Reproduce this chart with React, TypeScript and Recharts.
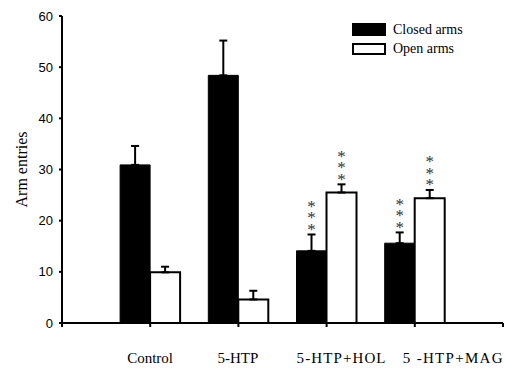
import {
  Bar,
  BarChart,
  ErrorBar,
  LabelList,
  XAxis,
  YAxis,
} from "recharts";

const categories = ["Control", "5-HTP", "5-HTP+HOL", "5 -HTP+MAG"];
const closedArms = [30.9, 48.4, 14.1, 15.6];
const closedSem = [3.7, 6.8, 3.2, 2.1];
const openArms = [9.9, 4.6, 25.5, 24.4];
const openSem = [1.1, 1.7, 1.6, 1.6];
const closedSig = ["", "", "***", "***"];
const openSig = ["", "", "***", "***"];
const yTicks = [0, 10, 20, 30, 40, 50, 60];
const xTicks = [0, 1, 2, 3, 4, 5];

// label placement tweaks (start offset from tick, letter spacing)
const labelDx = [-23, -21, -30, -12];
const labelSpacing = [0, 0, 1.1, 1.3];

const data = categories.map((name, i) => ({
  pos: i + 1,
  name,
  closed: closedArms[i],
  closedErr: [0, closedSem[i]],
  open: openArms[i],
  openErr: [0, openSem[i]],
}));

const serif = "'Liberation Serif', 'Times New Roman', serif";
const sans = "'Liberation Sans', Arial, sans-serif";

function XTick(props: any) {
  const { x, y, payload } = props;
  const i = payload.value - 1;
  if (i < 0 || i >= categories.length) return null;
  return (
    <text
      x={x + labelDx[i]}
      y={y + 36}
      textAnchor="start"
      fontFamily={serif}
      fontSize={15}
      letterSpacing={labelSpacing[i]}
      fill="#000"
    >
      {categories[i]}
    </text>
  );
}

function makeStars(values: number[], sem: number[], sig: string[]) {
  return (p: any) => {
    const { x, y, width, height, index } = p;
    const s = sig[index];
    if (!s) return null;
    const pxPerUnit = height / values[index];
    const errTop = y - sem[index] * pxPerUnit;
    const cx = x + width / 2;
    // stacked vertically, ending just above the error cap
    return (
      <text
        x={cx}
        y={errTop - 3}
        textAnchor="end"
        fontFamily={serif}
        fontSize={17}
        fill="#333"
        letterSpacing={-7.5}
        style={{ writingMode: "vertical-rl", textOrientation: "upright" }}
      >
        {s}
      </text>
    );
  };
}

function LegendBox() {
  const row = { display: "flex", alignItems: "center", height: 19 } as const;
  const label = { fontFamily: serif, fontSize: 14, marginLeft: 7, color: "#000" };
  return (
    <div style={{ position: "absolute", left: 352, top: 20 }}>
      <div style={row}>
        <div style={{ width: 34, height: 13, background: "#000" }} />
        <span style={label}>Closed arms</span>
      </div>
      <div style={row}>
        <div
          style={{
            width: 30,
            height: 8,
            border: "2px solid #000",
            background: "#fff",
          }}
        />
        <span style={label}>Open arms</span>
      </div>
    </div>
  );
}

export default function App() {
  return (
    <div style={{ position: "absolute", left: 0, top: 0, width: 505, height: 371, background: "#fff" }}>
      <BarChart
        width={505}
        height={371}
        data={data}
        margin={{ top: 16, right: 2, left: 0, bottom: 0 }}
        barGap={0}
        barSize={30}
      >
        <XAxis
          type="number"
          dataKey="pos"
          domain={[0, 5]}
          ticks={xTicks}
          interval={0}
          height={48}
          tick={<XTick />}
          tickSize={4}
          tickMargin={0}
          axisLine={{ stroke: "#000", strokeWidth: 2 }}
          tickLine={{ stroke: "#000", strokeWidth: 2 }}
        />
        <YAxis
          domain={[0, 60]}
          ticks={yTicks}
          width={62}
          tickSize={3}
          tickMargin={6}
          axisLine={{ stroke: "#000", strokeWidth: 2 }}
          tickLine={{ stroke: "#000", strokeWidth: 2 }}
          tick={{ fontFamily: sans, fontSize: 13, fill: "#000" }}
          label={{
            value: "Arm entries",
            angle: -90,
            position: "insideLeft",
            offset: 21,
            style: { fontFamily: serif, fontSize: 16, fill: "#000", textAnchor: "middle" },
          }}
        />
        <Bar dataKey="closed" fill="#000" stroke="#000" strokeWidth={1} isAnimationActive={false}>
          <ErrorBar dataKey="closedErr" width={4} stroke="#000" strokeWidth={2} direction="y" />
          <LabelList dataKey="closed" content={makeStars(closedArms, closedSem, closedSig)} />
        </Bar>
        <Bar dataKey="open" fill="#fff" stroke="#000" strokeWidth={2} isAnimationActive={false}>
          <ErrorBar dataKey="openErr" width={4} stroke="#000" strokeWidth={2} direction="y" />
          <LabelList dataKey="open" content={makeStars(openArms, openSem, openSig)} />
        </Bar>
      </BarChart>
      <LegendBox />
    </div>
  );
}
